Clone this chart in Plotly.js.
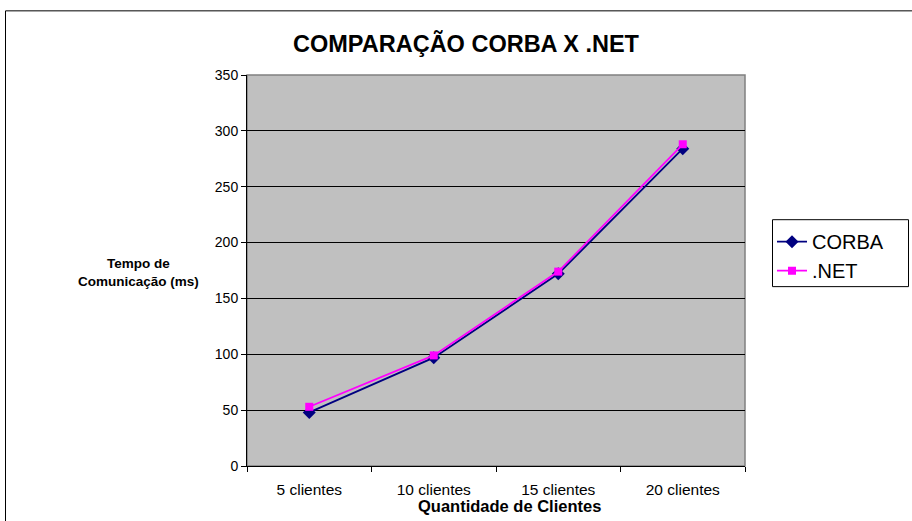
<!DOCTYPE html>
<html>
<head>
<meta charset="utf-8">
<script src="https://cdn.plot.ly/plotly-3.0.1.min.js"></script>
<style>html,body{margin:0;padding:0;background:#fff;}#chart{width:912px;height:521px;}</style>
</head>
<body>
<div id="chart"></div>
<script>
const categories = ["5 clientes", "10 clientes", "15 clientes", "20 clientes"];
const corba = [48, 97, 172, 284];
const dotnet = [53, 99, 174, 288];
const seriesNames = ["CORBA", ".NET"];
const yTicks = [0, 50, 100, 150, 200, 250, 300, 350];

const W = 912, H = 521;
const L = 247, R = 745, T = 74.7, B = 466;
const pw = R - L, ph = B - T;
const px = v => (v - L) / pw;
const py = v => (B - v) / ph;

const font = "Liberation Sans, Arial, sans-serif";

const traces = [
  {x: categories, y: corba, name: seriesNames[0], type: "scatter", mode: "lines+markers",
   line: {color: "#000080", width: 1.8}, marker: {symbol: "diamond", size: 10, color: "#000080"}},
  {x: categories, y: dotnet, name: seriesNames[1], type: "scatter", mode: "lines+markers",
   line: {color: "#ff00ff", width: 1.8}, marker: {symbol: "square", size: 8, color: "#ff00ff"}}
];

const layout = {
  width: W, height: H,
  margin: {l: L, r: W - R, t: T, b: H - B, pad: 0},
  paper_bgcolor: "#ffffff",
  plot_bgcolor: "#c0c0c0",
  font: {family: font, color: "#000", size: 14},
  showlegend: true,
  title: {text: "<b>COMPARAÇÃO CORBA X .NET</b>", x: px(466), xanchor: "center", xref: "paper",
          y: 1 - 44 / H, yanchor: "middle", font: {family: font, size: 23.5, color: "#000"}},
  xaxis: {type: "category", range: [-0.5, 3.5], showline: true, linecolor: "#000", linewidth: 1,
          ticks: "outside", tickson: "boundaries", ticklen: 5, tickcolor: "#000", ticklabelstandoff: 9,
          showgrid: false, zeroline: false, tickfont: {size: 15.5, family: font}, fixedrange: true},
  yaxis: {range: [0, 350], tickvals: yTicks, showline: true, linecolor: "#000", linewidth: 1,
          ticks: "outside", ticklen: 5, tickcolor: "#000", showgrid: true, gridcolor: "#000",
          gridwidth: 1, zeroline: false, tickfont: {size: 14, family: font}, fixedrange: true},
  legend: {x: px(772), y: py(222), xanchor: "left", yanchor: "top", borderwidth: 0,
           bgcolor: "rgba(0,0,0,0)", font: {size: 20, family: font}, tracegroupgap: 0},
  shapes: [
    {type: "rect", xref: "paper", yref: "paper", x0: 0, x1: 1, y0: 0, y1: 1,
     line: {color: "#808080", width: 1.5}, layer: "below"},
    {type: "rect", xref: "paper", yref: "paper", x0: px(5.5), x1: px(W + 10), y0: py(H + 10), y1: py(10.5),
     line: {color: "#000", width: 1}, layer: "below"},
    {type: "rect", xref: "paper", yref: "paper", x0: px(772.5), x1: px(908.5), y0: py(286.5), y1: py(219.5),
     line: {color: "#000", width: 1}, fillcolor: "#fff", layer: "below"}
  ],
  annotations: [
    {text: "<b>Tempo de<br>Comunicação (ms)</b>", xref: "paper", yref: "paper", x: px(138), y: py(272),
     xanchor: "center", yanchor: "middle", showarrow: false, align: "center",
     font: {size: 13.5, family: font}},
    {text: "<b>Quantidade de Clientes</b>", xref: "paper", yref: "paper", x: px(509), y: py(506),
     xanchor: "center", yanchor: "middle", showarrow: false, font: {size: 16.5, family: font}}
  ]
};

Plotly.newPlot("chart", traces, layout, {displayModeBar: false, staticPlot: true});
</script>
</body>
</html>
